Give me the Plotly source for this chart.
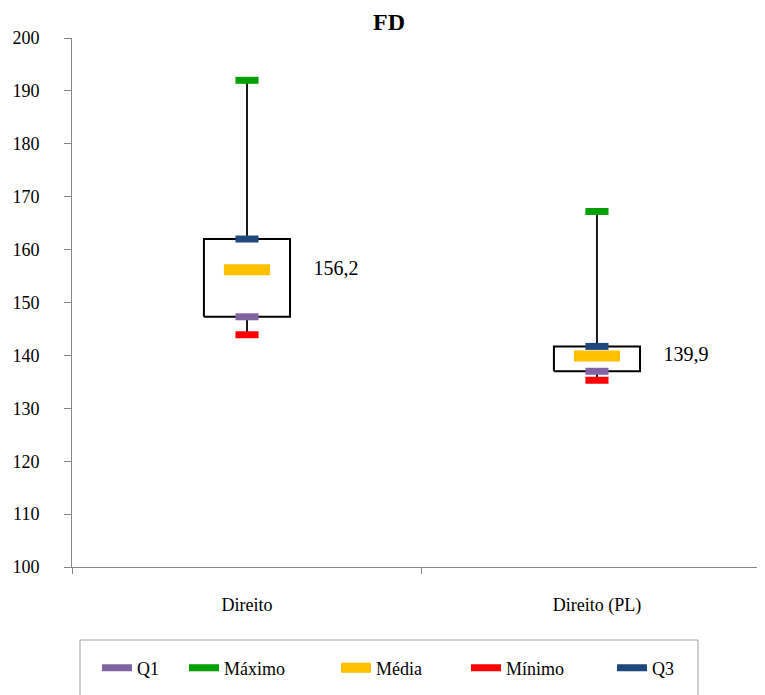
import plotly.graph_objects as go

categories = ["Direito", "Direito (PL)"]
q1 = [147.3, 137.0]
maximo = [192.0, 167.2]
media = [156.2, 139.9]
minimo = [143.9, 135.3]
q3 = [162.0, 141.7]
media_labels = ["156,2", "139,9"]
y_ticks = list(range(100, 201, 10))

FONT = "Liberation Serif"
xs = list(range(len(categories)))
box_hw = 0.123
mk_hw = 0.033
mean_hw = 0.066

OFF = 8  # page body margin
W, H = 765, 695
L, R, T = 72 - OFF, 0, 38 - OFF
B = H - (567 - OFF)
PW = W - L - R
PH = H - T - B


def px_x(px):
    return (px - OFF - L) / PW


def px_y(py):
    return (H - B - (py - OFF)) / PH


fig = go.Figure()

for i in xs:
    fig.add_trace(go.Scatter(x=[i, i], y=[q3[i], maximo[i]], mode="lines",
                             line=dict(color="#1a1a1a", width=2), showlegend=False, hoverinfo="skip"))
    fig.add_trace(go.Scatter(x=[i, i], y=[minimo[i], q1[i]], mode="lines",
                             line=dict(color="#1a1a1a", width=2), showlegend=False, hoverinfo="skip"))
    fig.add_trace(go.Scatter(x=[i - box_hw, i + box_hw, i + box_hw, i - box_hw, i - box_hw],
                             y=[q1[i], q1[i], q3[i], q3[i], q1[i]], mode="lines",
                             line=dict(color="black", width=2), showlegend=False, hoverinfo="skip"))

series = [
    ("Q1", q1, "#8064A2", mk_hw, 7, 137),
    ("Máximo", maximo, "#00A000", mk_hw, 7, 224),
    ("Média", media, "#FFC000", mean_hw, 11, 376),
    ("Mínimo", minimo, "#FF0000", mk_hw, 7, 506),
    ("Q3", q3, "#1F497D", mk_hw, 7, 652),
]

legend_layouts = {}
for k, (name, vals, color, hw, width, text_px) in enumerate(series):
    xx, yy = [], []
    for i in xs:
        xx += [i - hw, i + hw, None]
        yy += [vals[i], vals[i], None]
    lg = "legend" if k == 0 else f"legend{k + 1}"
    fig.add_trace(go.Scatter(x=xx, y=yy, mode="lines", name=name,
                             line=dict(color=color, width=width), showlegend=True, legend=lg))
    legend_layouts[lg] = dict(
        orientation="h", x=px_x(text_px - 40), xanchor="left", y=px_y(668), yanchor="middle",
        bgcolor="rgba(0,0,0,0)", borderwidth=0,
        font=dict(family=FONT, size=18, color="black"), itemwidth=30,
    )

fig.add_trace(go.Scatter(x=[i + 0.19 for i in xs], y=media, mode="text", text=media_labels,
                         textposition="middle right", textfont=dict(family=FONT, size=20, color="black"),
                         showlegend=False, hoverinfo="skip"))

fig.add_shape(type="rect", xref="paper", yref="paper", x0=px_x(80), x1=px_x(698),
              y0=px_y(710), y1=px_y(640), line=dict(color="#A0A0A0", width=1), layer="below")

fig.update_layout(
    width=W, height=H,
    paper_bgcolor="white", plot_bgcolor="white",
    margin=dict(l=L, r=R, t=T, b=B, autoexpand=False),
    font=dict(family=FONT, size=18, color="black"),
    title=dict(text="<b>FD</b>", xref="container", x=(389 - OFF) / W, xanchor="center",
               yref="container", y=1 - (22 - OFF) / H, yanchor="middle",
               font=dict(family=FONT, size=24, color="black")),
    showlegend=True,
    **legend_layouts,
)
fig.update_xaxes(range=[-0.5, 1.503], tickvals=xs, ticktext=categories, ticks="", showgrid=False,
                 showline=True, linecolor="#868686", linewidth=1, zeroline=False,
                 automargin=False, ticklabelstandoff=21,
                 tickfont=dict(family=FONT, size=18, color="black"),
                 minor=dict(tickvals=[-0.5, 0.5, 1.5], ticks="outside", ticklen=6, tickcolor="#868686"))
fig.update_yaxes(range=[100, 200], tickvals=y_ticks, ticks="outside", ticklen=7, tickcolor="#868686",
                 showgrid=False, showline=True, linecolor="#868686", linewidth=1, zeroline=False,
                 automargin=False, ticklabelstandoff=21,
                 tickfont=dict(family=FONT, size=18, color="black"))

fig.write_html("out.html")
